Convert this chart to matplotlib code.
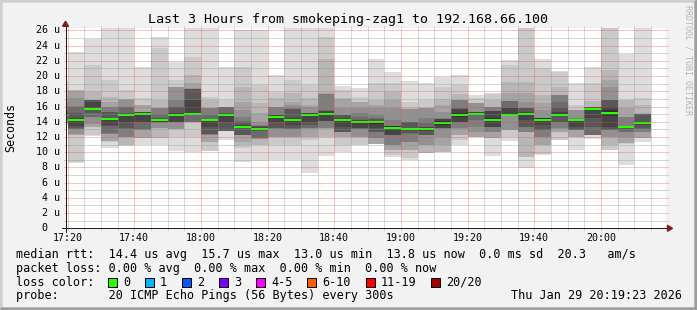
import matplotlib
matplotlib.use("Agg")
import matplotlib.pyplot as plt
from matplotlib.lines import Line2D
from matplotlib.patches import Polygon, Rectangle
from matplotlib.transforms import Affine2D

plt.rcParams["font.family"] = "DejaVu Sans Mono"
plt.rcParams["lines.scale_dashes"] = False

# ---- values (rtt in microseconds) ----
bar_start = ["17:15", "17:20", "17:25", "17:30", "17:35", "17:40", "17:45", "17:50",
             "17:55", "18:00", "18:05", "18:10", "18:15", "18:20", "18:25", "18:30",
             "18:35", "18:40", "18:45", "18:50", "18:55", "19:00", "19:05", "19:10",
             "19:15", "19:20", "19:25", "19:30", "19:35", "19:40", "19:45", "19:50",
             "19:55", "20:00", "20:05", "20:10"]

median_rtt = [14.9, 14.23, 15.67, 14.36, 14.89, 15.06, 14.23, 14.89, 15.06, 14.23,
              14.89, 13.35, 13.04, 14.67, 14.23, 14.89, 15.06, 14.23, 14.01, 13.95,
              13.22, 13.04, 13.04, 13.83, 14.89, 15.06, 14.23, 14.89, 15.06, 14.23,
              14.89, 14.23, 15.67, 15.15, 13.31, 13.83]

# 20 sorted pings per step
pings = [
    [13.6, 13.7, 13.8, 13.9, 14.0, 14.2, 14.4, 14.6, 14.7, 14.8, 15.0, 15.1, 15.3, 15.6, 16.0, 16.5, 17.0, 17.8, 18.5, 19.3],
    [8.54, 8.76, 12.25, 12.3, 12.35, 13.05, 13.1, 13.14, 13.4, 14.1, 14.4, 14.45, 15.1, 16.0, 16.05, 17.07, 18.1, 18.15, 18.2, 23.2],
    [12.18, 12.3, 13.3, 13.36, 13.67, 14.6, 14.67, 15.1, 15.5, 15.55, 15.8, 16.56, 16.86, 16.86, 16.86, 16.86, 16.86, 17.95, 21.4, 24.9],
    [10.6, 11.4, 11.45, 11.48, 12.4, 12.45, 12.48, 13.5, 13.58, 14.28, 14.45, 14.54, 15.3, 15.33, 15.99, 15.99, 16.64, 17.2, 19.5, 27.0],
    [10.86, 10.9, 10.95, 11.95, 12.0, 12.05, 13.1, 13.14, 14.02, 14.78, 15.0, 15.05, 15.11, 15.95, 15.99, 16.9, 16.95, 17.0, 18.17, 27.0],
    [10.95, 11.88, 11.88, 11.91, 12.98, 12.98, 13.01, 14.0, 14.02, 14.97, 15.15, 15.3, 15.3, 15.3, 15.3, 15.33, 16.2, 16.21, 17.1, 21.15],
    [10.95, 11.9, 11.91, 13.12, 13.14, 13.9, 13.91, 13.92, 13.93, 14.1, 14.4, 14.42, 14.45, 14.98, 15.84, 15.85, 15.86, 16.86, 23.65, 25.1],
    [10.16, 12.05, 13.0, 13.0, 13.01, 13.98, 14.0, 14.0, 14.02, 14.73, 15.05, 15.11, 15.95, 15.99, 16.86, 18.58, 18.58, 18.6, 19.48, 21.8],
    [10.07, 12.05, 14.0, 14.0, 14.0, 14.0, 14.02, 14.9, 14.9, 14.92, 15.2, 16.85, 18.35, 18.35, 18.35, 18.39, 19.04, 20.14, 22.55, 27.0],
    [10.1, 10.16, 11.37, 11.39, 12.31, 12.32, 12.33, 12.35, 13.36, 14.2, 14.35, 14.35, 14.37, 14.89, 15.75, 15.75, 15.77, 16.86, 17.29, 27.0],
    [11.6, 12.75, 12.76, 12.77, 12.78, 12.78, 12.79, 12.8, 14.0, 14.78, 15.0, 15.05, 15.1, 15.9, 15.93, 15.95, 15.95, 16.0, 16.85, 21.15],
    [8.76, 10.51, 11.0, 11.39, 12.2, 12.22, 12.24, 12.26, 13.2, 13.25, 13.45, 13.55, 13.8, 14.1, 14.67, 15.55, 16.6, 18.6, 21.2, 26.05],
    [8.9, 10.9, 10.95, 11.78, 11.79, 11.8, 11.83, 12.85, 12.86, 12.88, 13.2, 13.3, 13.5, 13.5, 13.6, 14.0, 15.1, 16.4, 18.83, 26.1],
    [8.98, 10.95, 12.0, 12.02, 12.05, 13.1, 13.12, 13.14, 14.02, 14.54, 14.8, 14.85, 14.85, 14.89, 15.95, 15.95, 15.99, 17.08, 17.95, 20.1],
    [8.98, 10.95, 12.0, 12.0, 12.05, 13.1, 13.1, 13.14, 13.6, 14.06, 14.4, 14.45, 15.7, 15.7, 15.77, 16.2, 16.64, 17.73, 19.48, 27.0],
    [7.3, 11.61, 12.0, 12.05, 13.1, 13.12, 13.14, 13.6, 14.02, 14.73, 15.05, 15.1, 15.12, 15.15, 15.2, 15.99, 16.2, 17.07, 18.83, 27.0],
    [9.5, 12.0, 12.05, 13.1, 13.12, 13.14, 14.05, 14.08, 14.1, 14.92, 15.2, 15.45, 15.45, 15.5, 17.7, 17.7, 17.73, 22.3, 25.1, 27.0],
    [10.07, 10.95, 12.0, 12.05, 12.6, 12.65, 12.68, 12.7, 13.36, 14.1, 14.4, 14.45, 14.85, 14.85, 14.89, 15.77, 16.99, 17.07, 18.17, 18.7],
    [10.9, 10.95, 12.0, 12.02, 12.05, 13.08, 13.1, 13.12, 13.14, 13.87, 14.15, 14.2, 14.25, 14.6, 15.1, 15.77, 16.6, 16.64, 17.3, 18.5],
    [11.1, 11.1, 11.1, 11.1, 11.88, 11.91, 12.68, 12.7, 13.14, 13.74, 14.1, 14.15, 14.3, 14.5, 14.89, 15.77, 16.21, 16.86, 19.05, 22.3],
    [9.4, 9.6, 10.25, 10.29, 10.9, 10.95, 12.2, 12.23, 12.26, 13.05, 13.4, 13.45, 13.45, 13.49, 14.23, 15.77, 16.86, 17.95, 19.05, 20.6],
    [8.97, 9.2, 10.25, 10.29, 11.35, 11.39, 12.45, 12.48, 12.9, 12.96, 13.12, 13.14, 13.98, 13.98, 14.02, 15.7, 15.7, 15.77, 16.64, 19.3],
    [9.85, 9.85, 9.85, 10.9, 10.95, 12.2, 12.23, 12.26, 12.85, 12.88, 13.2, 13.3, 13.36, 13.9, 14.45, 15.75, 15.75, 15.77, 16.86, 19.05],
    [10.07, 10.07, 10.07, 10.95, 12.05, 13.1, 13.12, 13.13, 13.14, 13.56, 14.1, 14.4, 14.4, 14.4, 14.45, 15.33, 16.21, 17.0, 18.6, 19.9],
    [10.9, 11.61, 12.2, 12.26, 13.1, 13.14, 13.98, 14.0, 14.02, 14.68, 15.1, 15.7, 15.7, 15.77, 16.8, 16.8, 16.86, 17.7, 18.83, 20.1],
    [12.05, 12.05, 12.05, 12.05, 12.7, 13.36, 14.23, 14.88, 14.9, 14.93, 15.2, 15.26, 15.28, 15.3, 15.33, 16.4, 16.42, 16.42, 17.08, 17.5],
    [9.5, 11.8, 11.81, 11.83, 12.65, 12.7, 13.3, 13.33, 13.36, 14.1, 14.45, 15.4, 15.4, 15.42, 15.95, 15.95, 15.99, 16.86, 17.6, 17.8],
    [11.5, 12.0, 12.88, 12.9, 12.92, 14.7, 14.72, 14.74, 14.76, 14.78, 15.0, 15.77, 15.77, 16.7, 16.7, 16.73, 17.73, 19.26, 21.45, 22.1],
    [7.9, 9.4, 9.42, 12.65, 12.68, 12.7, 13.3, 13.36, 14.23, 14.92, 15.2, 15.24, 15.75, 15.75, 15.77, 16.64, 17.73, 19.26, 26.6, 27.0],
    [9.6, 9.7, 10.9, 10.95, 12.0, 12.05, 12.9, 12.92, 13.58, 14.1, 14.45, 14.46, 14.48, 14.5, 14.54, 15.55, 16.42, 17.5, 21.0, 22.2],
    [11.6, 11.6, 12.68, 12.7, 13.1, 13.14, 14.0, 14.02, 14.75, 14.78, 15.0, 15.3, 15.77, 16.64, 17.5, 17.5, 17.51, 18.61, 20.58, 20.7],
    [10.29, 12.0, 12.02, 12.05, 12.88, 12.89, 12.9, 12.92, 13.36, 14.18, 14.38, 14.4, 14.41, 14.42, 14.45, 15.5, 15.5, 15.55, 16.21, 19.1],
    [11.7, 12.21, 12.22, 12.23, 12.24, 12.25, 12.26, 13.36, 14.45, 15.5, 15.85, 15.9, 15.95, 15.98, 15.98, 15.98, 16.0, 16.72, 19.04, 21.2],
    [10.29, 10.3, 10.95, 12.0, 12.05, 12.88, 12.9, 12.92, 13.36, 14.8, 15.5, 15.99, 16.8, 16.8, 16.86, 18.61, 19.48, 20.8, 26.6, 27.0],
    [8.3, 11.1, 11.15, 11.17, 12.05, 12.65, 12.7, 13.1, 13.15, 13.17, 13.45, 13.45, 13.45, 13.49, 14.65, 14.67, 15.77, 16.8, 16.85, 22.9],
    [11.39, 11.8, 11.81, 11.83, 12.65, 12.7, 13.1, 13.14, 13.6, 13.68, 13.98, 14.02, 15.02, 15.04, 15.06, 15.08, 15.11, 16.21, 17.08, 27.0],
]

loss_labels = ["0", "1", "2", "3", "4-5", "6-10", "11-19", "20/20"]
loss_colors = ["#26ff00", "#00b8ff", "#0059ff", "#7e00ff", "#ff00ff", "#ff5e00", "#ff0000", "#a10000"]

title = "Last 3 Hours from smokeping-zag1 to 192.168.66.100"
legend_rtt = "median rtt:  14.4 us avg  15.7 us max  13.0 us min  13.8 us now  0.0 ms sd  20.3   am/s"
legend_loss = "packet loss: 0.00 % avg  0.00 % max  0.00 % min  0.00 % now"
legend_probe = "probe:       20 ICMP Echo Pings (56 Bytes) every 300s"
stamp = "Thu Jan 29 20:19:23 2026"

# ---- layout (pixels) ----
W, H = 697, 310
X0, Y0, XS, YS = 65.5, 228.3, 600.0, 200.0
YMAX = 26.28
T0 = 19 + 23 / 60.0      # 17:19:23, minutes after 17:00
SPAN = 180
STEP = 5

GRID = (0.56, 0.56, 0.56, 0.35)
MGRID = (0.87, 0.31, 0.31, 0.32)
DOTS = (0, (0.72, 0.72))


def minutes(hhmm):
    h, m = hhmm.split(":")
    return (int(h) - 17) * 60 + int(m)


starts = [minutes(s) for s in bar_start]

fig = plt.figure(figsize=(W / 100, H / 100), dpi=100, facecolor="#f2f2f2")
pix = Affine2D().scale(1.0 / W, -1.0 / H).translate(0, 1) + fig.transFigure

# bevel around the image
fig.patches.append(Polygon([(0, H), (2, H - 2), (2, 2), (W - 2, 2), (W, 0), (0, 0)],
                           closed=True, transform=pix, color="#cfcfcf"))
fig.patches.append(Polygon([(2, H - 2), (W - 2, H - 2), (W - 2, 2), (W, 0), (W, H), (0, H)],
                           closed=True, transform=pix, color="#9e9e9e"))

ax = fig.add_axes([X0 / W, 1 - Y0 / H, XS / W, YS / H])
ax.set_xlim(T0, T0 + SPAN)
ax.set_ylim(0, YMAX)
ax.set_facecolor("white")
for s in ax.spines.values():
    s.set_visible(False)
ax.set_xticks([])
ax.set_yticks([])

# smoke: layer k spans ping k .. ping 21-k, darker towards the middle
for k in range(10):
    g = (221 - 19 * k) / 255.0
    lo = [p[k] for p in pings]
    hi = [p[19 - k] for p in pings]
    ax.bar(starts, [b - a for a, b in zip(lo, hi)], bottom=lo, width=STEP, align="edge",
           color=(g, g, g), linewidth=0, antialiased=False, zorder=2)

# median
ax.hlines(median_rtt, starts, [s + STEP for s in starts], colors=loss_colors[0],
          linewidth=1.44, zorder=3)

# grid, with the little ticks outside the plot
xt = ax.get_xaxis_transform()
yt = ax.get_yaxis_transform()
ex, ey = 2 / XS, 2 / YS
for v in range(1, 27):
    c = MGRID if v % 2 == 0 else GRID
    ax.add_line(Line2D([0, 1], [v, v], transform=yt, color=c, lw=0.72, linestyle=DOTS,
                       antialiased=False, zorder=5))
    ax.add_line(Line2D([-ex, 0], [v, v], transform=yt, color=c, lw=0.72, clip_on=False))
    ax.add_line(Line2D([1, 1 + ex], [v, v], transform=yt, color=c, lw=0.72, clip_on=False))
for m in range(20, 200, 5):
    c = MGRID if m % 20 == 0 else GRID
    ax.add_line(Line2D([m, m], [0, 1], transform=xt, color=c, lw=0.72, linestyle=DOTS,
                       antialiased=False, zorder=5))
    ax.add_line(Line2D([m, m], [-ey, 0], transform=xt, color=c, lw=0.72, clip_on=False))
    ax.add_line(Line2D([m, m], [1, 1 + ey], transform=xt, color=c, lw=0.72, clip_on=False))

# axes with arrows
axis_col = (0.12, 0.12, 0.12)
arrow_col = (0.5, 0.12, 0.12)
ax.add_line(Line2D([-4 / XS, 1 + 4 / XS], [0, 0], transform=ax.transAxes, color=axis_col,
                   lw=0.72, clip_on=False, zorder=6))
ax.add_line(Line2D([0, 0], [-4 / YS, 1 + 4 / YS], transform=ax.transAxes, color=axis_col,
                   lw=0.72, clip_on=False, zorder=6))
ax.add_patch(Polygon([(1 + 2 / XS, -3 / YS), (1 + 2 / XS, 3 / YS), (1 + 7 / XS, 0)],
                     closed=True, transform=ax.transAxes, color=arrow_col, clip_on=False, zorder=7))
ax.add_patch(Polygon([(-3 / XS, 1 + 2 / YS), (3 / XS, 1 + 2 / YS), (0, 1 + 7 / YS)],
                     closed=True, transform=ax.transAxes, color=arrow_col, clip_on=False, zorder=7))

# axis labels
for m in range(20, 181, 20):
    ax.text(m, -9.7 / YS, "%02d:%02d" % (17 + m // 60, m % 60), transform=xt,
            ha="center", va="center", fontsize=7.2)
for v in range(0, 27, 2):
    lab = "%2d u" % v if v else " 0"
    ax.text((36 - X0) / XS, v, lab, transform=yt, ha="left", va="center", fontsize=7.2)

fig.text(348.5, 19, title, transform=pix, ha="center", va="center", fontsize=9.6)
fig.text(11, 128, "Seconds", transform=pix, ha="center", va="center", rotation=90, fontsize=8.4)
fig.text(688, 60, "RRDTOOL / TOBI OETIKER", transform=pix, ha="center", va="center",
         rotation=270, fontsize=6, color="#b4b4b4")

# legend
LF = 8.43
fig.text(16, 254.7, legend_rtt, transform=pix, ha="left", va="center", fontsize=LF)
fig.text(16, 268.3, legend_loss, transform=pix, ha="left", va="center", fontsize=LF)
fig.text(16, 282, "loss color:", transform=pix, ha="left", va="center", fontsize=LF)
bx = 108.0
for lab, col in zip(loss_labels, loss_colors):
    fig.patches.append(Rectangle((bx, 277.5), 9, 9, transform=pix, facecolor=col,
                                 edgecolor="black", linewidth=0.72))
    fig.text(bx + 15, 282, lab, transform=pix, ha="left", va="center", fontsize=LF)
    bx += 30 + 7.05 * len(lab)
fig.text(16, 295.7, legend_probe, transform=pix, ha="left", va="center", fontsize=LF)
fig.text(682, 295.7, stamp, transform=pix, ha="right", va="center", fontsize=LF)

fig.savefig("out.png", dpi=100, facecolor=fig.get_facecolor())
